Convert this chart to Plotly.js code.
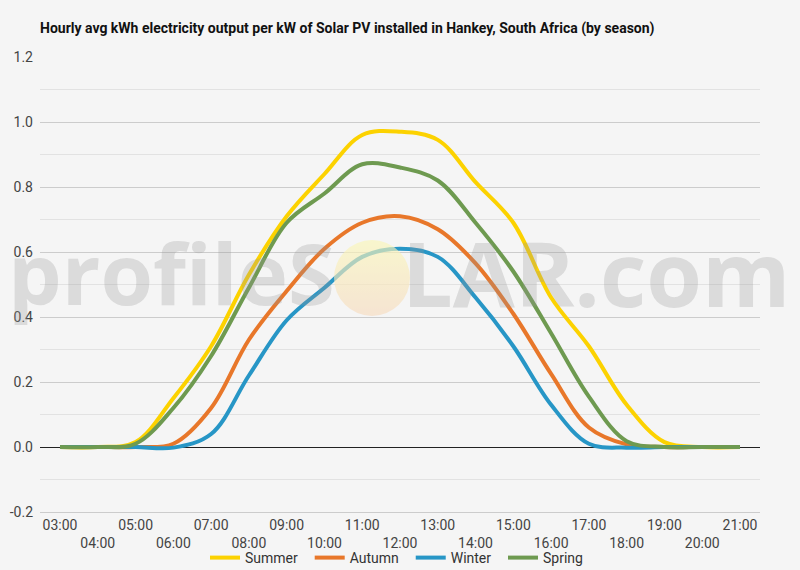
<!DOCTYPE html>
<html>
<head>
<meta charset="utf-8">
<script src="https://cdn.plot.ly/plotly-3.0.1.min.js"></script>
<style>
  body { margin: 0; background: #f5f5f5; }
  #plot { width: 800px; height: 570px; }
</style>
</head>
<body>
<div id="plot"></div>
<script>
/* global Plotly */
const hours = ['03:00', '04:00', '05:00', '06:00', '07:00', '08:00', '09:00', '10:00', '11:00', '12:00',
    '13:00', '14:00', '15:00', '16:00', '17:00', '18:00', '19:00', '20:00', '21:00']

const summer = [0, 0, 0.015, 0.15, 0.31, 0.53, 0.71, 0.84, 0.96, 0.97, 0.945, 0.815, 0.69, 0.46, 0.31, 0.13, 0.015, 0, 0]
const autumn = [0, 0, 0, 0.01, 0.12, 0.33, 0.48, 0.61, 0.69, 0.71, 0.67, 0.565, 0.41, 0.225, 0.06, 0.008, 0, 0, 0]
const winter = [0, 0, 0, -0.002, 0.04, 0.22, 0.39, 0.49, 0.585, 0.61, 0.585, 0.46, 0.31, 0.13, 0.01, -0.002, 0, 0, 0]
const spring = [0, 0, 0.01, 0.12, 0.28, 0.49, 0.69, 0.78, 0.87, 0.86, 0.82, 0.69, 0.54, 0.35, 0.155, 0.018, 0, 0, 0]

const yTicks = [-0.2, 0, 0.2, 0.4, 0.6, 0.8, 1.0, 1.2]
const yTickText = ['-0.2', '0.0', '0.2', '0.4', '0.6', '0.8', '1.0', '1.2']

const seasons = [
    {name: 'Summer', y: summer, color: '#fcd200'},
    {name: 'Autumn', y: autumn, color: '#e8772a'},
    {name: 'Winter', y: winter, color: '#2796c6'},
    {name: 'Spring', y: spring, color: '#6e9a50'},
]

// two trailing no-break spaces widen the gap between legend entries
const traces = seasons.map(s => ({
    x: hours,
    y: s.y,
    name: s.name + '\u00a0\u00a0',
    type: 'scatter',
    mode: 'lines',
    line: {color: s.color, width: 4, shape: 'spline', smoothing: 1},
}))

// sun in place of the "O" of the watermark
const sunSvg = '<svg xmlns="http://www.w3.org/2000/svg" width="100" height="100">' +
    '<defs><linearGradient id="g" x1="0" y1="0" x2="0" y2="1">' +
    '<stop offset="0" stop-color="#fbf7b8"/><stop offset="1" stop-color="#f7dcc0"/>' +
    '</linearGradient></defs><circle cx="50" cy="50" r="50" fill="url(#g)"/></svg>'

const px = x => (x - 40) / 720
const py = y => (512 - y) / 455

const mark = size => ({family: 'Open Sans', size, color: 'rgba(150,150,150,0.28)'})

const layout = {
    width: 800,
    height: 570,
    paper_bgcolor: '#f5f5f5',
    plot_bgcolor: '#f5f5f5',
    font: {family: 'Roboto, sans-serif', size: 14, color: '#444'},
    margin: {l: 40, r: 40, t: 57, b: 58},
    title: {
        text: '<b>Hourly avg kWh electricity output per kW of Solar PV installed in Hankey, South Africa (by season)</b>',
        font: {size: 14, color: '#111'},
        x: 40 / 800, xanchor: 'left', y: 1 - 28 / 570, yanchor: 'middle',
    },
    xaxis: {
        type: 'category',
        range: [-0.53, 18.53],
        tickvals: hours,
        ticktext: hours.map((h, i) => i % 2 ? '<br>' + h : h),
        showgrid: false,
        showline: true,
        linecolor: '#cccccc',
        ticks: '',
        tickfont: {size: 14, color: '#444'},
    },
    yaxis: {
        range: [-0.2, 1.2],
        tickvals: yTicks,
        ticktext: yTickText,
        showgrid: true,
        gridcolor: '#cccccc',
        minor: {dtick: 0.1, showgrid: true, gridcolor: '#e2e2e2'},
        zeroline: true,
        zerolinecolor: '#222',
        zerolinewidth: 1,
        ticks: '',
        tickfont: {size: 14, color: '#444'},
        ticklabelstandoff: 6,
    },
    legend: {
        orientation: 'h',
        x: 0.5, xanchor: 'center',
        yref: 'container', y: 1 - 558 / 570, yanchor: 'middle',
        font: {size: 14, color: '#333'},
        bgcolor: 'rgba(0,0,0,0)',
    },
    annotations: [
        {text: '<b>profileS</b>', xref: 'paper', yref: 'paper', x: px(336), y: py(272),
            xanchor: 'right', yanchor: 'middle', showarrow: false, borderpad: 0, font: mark(85)},
        {text: '<b>LAR.com</b>', xref: 'paper', yref: 'paper', x: px(401), y: py(272),
            xanchor: 'left', yanchor: 'middle', showarrow: false, borderpad: 0, font: mark(90)},
    ],
    images: [{
        source: 'data:image/svg+xml;charset=utf-8,' + encodeURIComponent(sunSvg),
        xref: 'paper', yref: 'paper',
        x: px(334), y: py(240), sizex: 76 / 720, sizey: 76 / 455,
        xanchor: 'left', yanchor: 'top', sizing: 'stretch',
        opacity: 0.65, layer: 'above',
    }],
}

Plotly.newPlot('plot', traces, layout, {displayModeBar: false})
</script>
</body>
</html>
